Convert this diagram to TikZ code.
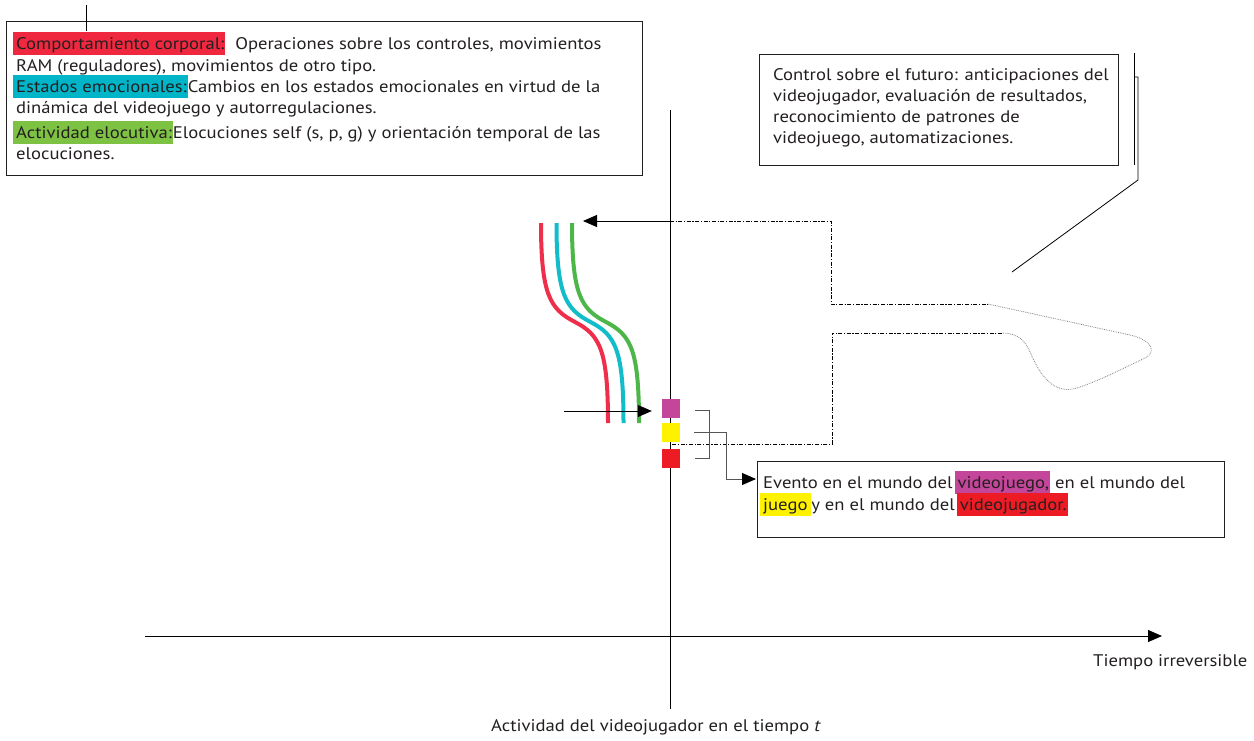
\documentclass[tikz,border=0pt]{standalone}
\usepackage{fontspec}
\setmainfont[FakeStretch=1.11]{PT Sans}
\usetikzlibrary{arrows.meta}
\definecolor{txtc}{HTML}{231F20}
\definecolor{hred}{HTML}{EF2840}
\definecolor{hcyan}{HTML}{00B5C8}
\definecolor{hgreen}{HTML}{7DC242}
\definecolor{cred}{HTML}{EE2E4A}
\definecolor{ccyan}{HTML}{12BCC9}
\definecolor{cgreen}{HTML}{4CB748}
\definecolor{mag}{HTML}{C4469A}
\definecolor{yel}{HTML}{FFF200}
\definecolor{sred}{HTML}{ED1C24}
\definecolor{brk}{HTML}{555555}
\newcommand{\hlt}[2]{\kern-3pt{\setlength{\fboxsep}{0pt}\colorbox{#1}{\rule[-6pt]{0pt}{23pt}\kern3pt#2\kern1pt}}}
\tikzset{
  txt/.style={font=\fontsize{16.8}{21}\selectfont, text=txtc, inner sep=0pt, anchor=base west},
  box/.style={draw=txtc, line width=0.8pt},
  axis/.style={draw=black, line width=0.8pt},
  tri/.style={-{Triangle[length=14pt,width=12pt,color=black]}},
  curve/.style={line width=4pt},
  dd/.style={line width=0.9pt, dash pattern=on 4pt off 1.6pt on 1.2pt off 1.6pt},
  loopd/.style={line width=0.8pt, draw=gray, densely dotted},
  sq/.style={minimum width=18pt, minimum height=19pt, inner sep=0pt, draw=none},
  brl/.style={draw=brk, line width=1pt}
}
\begin{document}
\begin{tikzpicture}[x=1pt,y=-1pt]
\useasboundingbox (0,0) rectangle (1254,740);
% top-left box
\draw[box] (6,21) rectangle (642,175);
\coordinate (tl1) at (86,5);
\coordinate (tl2) at (86,31);
\draw[line width=0.8pt] (tl1) -- (tl2);
\node[txt] (a1) at (16,49) {\hlt{hred}{Comportamiento corporal:}\ \ Operaciones sobre los controles, movimientos};
\node[txt] (a2) at (16,71) {RAM (reguladores), movimientos de otro tipo.};
\node[txt] (a3) at (16,92) {\hlt{hcyan}{Estados emocionales:}Cambios en los estados emocionales en virtud de la};
\node[txt] (a4) at (16,113) {dinámica del videojuego y autorregulaciones.};
\node[txt] (a5) at (16,138) {\hlt{hgreen}{Actividad elocutiva:}Elocuciones self (s, p, g) y orientación temporal de las};
\node[txt] (a6) at (16,159) {elocuciones.};
% top-right box
\draw[box] (759,54) rectangle (1118,165);
\node[txt] (b1) at (773,80) {Control sobre el futuro: anticipaciones del};
\node[txt] (b2) at (773,101) {videojugador, evaluación de resultados,};
\node[txt] (b3) at (773,122) {reconocimiento de patrones de};
\node[txt] (b4) at (773,143) {videojuego, automatizaciones.};
\coordinate (r1) at (1134,53);
\coordinate (r2) at (1134,165);
\draw[line width=0.8pt] (r1) -- (r2);
\coordinate (h1) at (1134,77);
\coordinate (h2) at (1138,77);
\coordinate (h3) at (1138,180);
\coordinate (h4) at (1012,272);
\draw[line width=0.8pt] (h1) -- (h2) -- (h3) -- (h4);
% axes
\coordinate (vtop) at (670,110);
\coordinate (vbot) at (670,709);
\draw[axis] (vtop) -- (vbot);
\coordinate (hl) at (145,636);
\coordinate (hr) at (1162,636);
\draw[axis,tri] (hl) -- (hr);
\node[txt] (tirr) at (1093,666) {Tiempo irreversible};
\node[txt] (tact) at (491,731) {Actividad del videojugador en el tiempo \textit{t}};
% curves
\foreach \dx/\c in {0/cred,15.5/ccyan,31/cgreen}{
  \draw[curve,\c,xshift=\dx pt] (541,223) .. controls (541,295) and (550,309) .. (575,322) .. controls (600,335) and (608,350) .. (608,423);
}
% squares
\node[sq,fill=mag] (sm) at (671,408.5) {};
\node[sq,fill=yel] (sy) at (671,432.5) {};
\node[sq,fill=sred] (sr) at (671,458.5) {};
% arrows
\coordinate (ain) at (564,411);
\draw[line width=0.8pt,tri,shorten >=10pt] (ain) -- (ain -| sm.west);
\coordinate (fb) at (670,221);
\coordinate (ctip) at (583,221);
\draw[line width=0.8pt,tri] (fb) -- (ctip);
% dash-dot feedback path
\coordinate (d1) at (831,221);
\coordinate (d2) at (831,304);
\coordinate (d3) at (988,304);
\coordinate (d4) at (1002,333);
\coordinate (d5) at (832,333);
\coordinate (d6) at (832,444);
\coordinate (d7) at (671,444);
\draw[dd] (fb) -- (d1) -- (d2) -- (d3);
\draw[loopd] (d3) -- (1130,335) .. controls (1152,340) and (1157,352) .. (1145,358) .. controls (1120,370) and (1090,385) .. (1073,389) .. controls (1050,393) and (1038,370) .. (1030,352) .. controls (1024,338) and (1015,333) .. (d4);
\draw[dd] (d4) -- (d5) -- (d6) -- (d7);
% bracket
\coordinate (k1) at (695,410);
\coordinate (k2) at (709,410);
\coordinate (k3) at (709,458);
\coordinate (k4) at (695,458);
\draw[brl] (k1) -- (k2) -- (k3) -- (k4);
\coordinate (m1) at (694,432);
\coordinate (m2) at (726,432);
% event box
\node[draw=txtc,line width=0.8pt,minimum width=467pt,minimum height=76pt,inner sep=0pt,anchor=north west] (ev) at (757,461) {};
\draw[brl,tri] (m1) -- (m2) |- ([xshift=-1pt]ev.west |- 0,479);
\node[txt] (e1) at (763,488) {Evento en el mundo del \hlt{mag}{videojuego,} en el mundo del};
\node[txt] (e2) at (763,510) {\hlt{yel}{juego\,}y en el mundo del \hlt{sred}{videojugador.}};
\end{tikzpicture}
\end{document}
